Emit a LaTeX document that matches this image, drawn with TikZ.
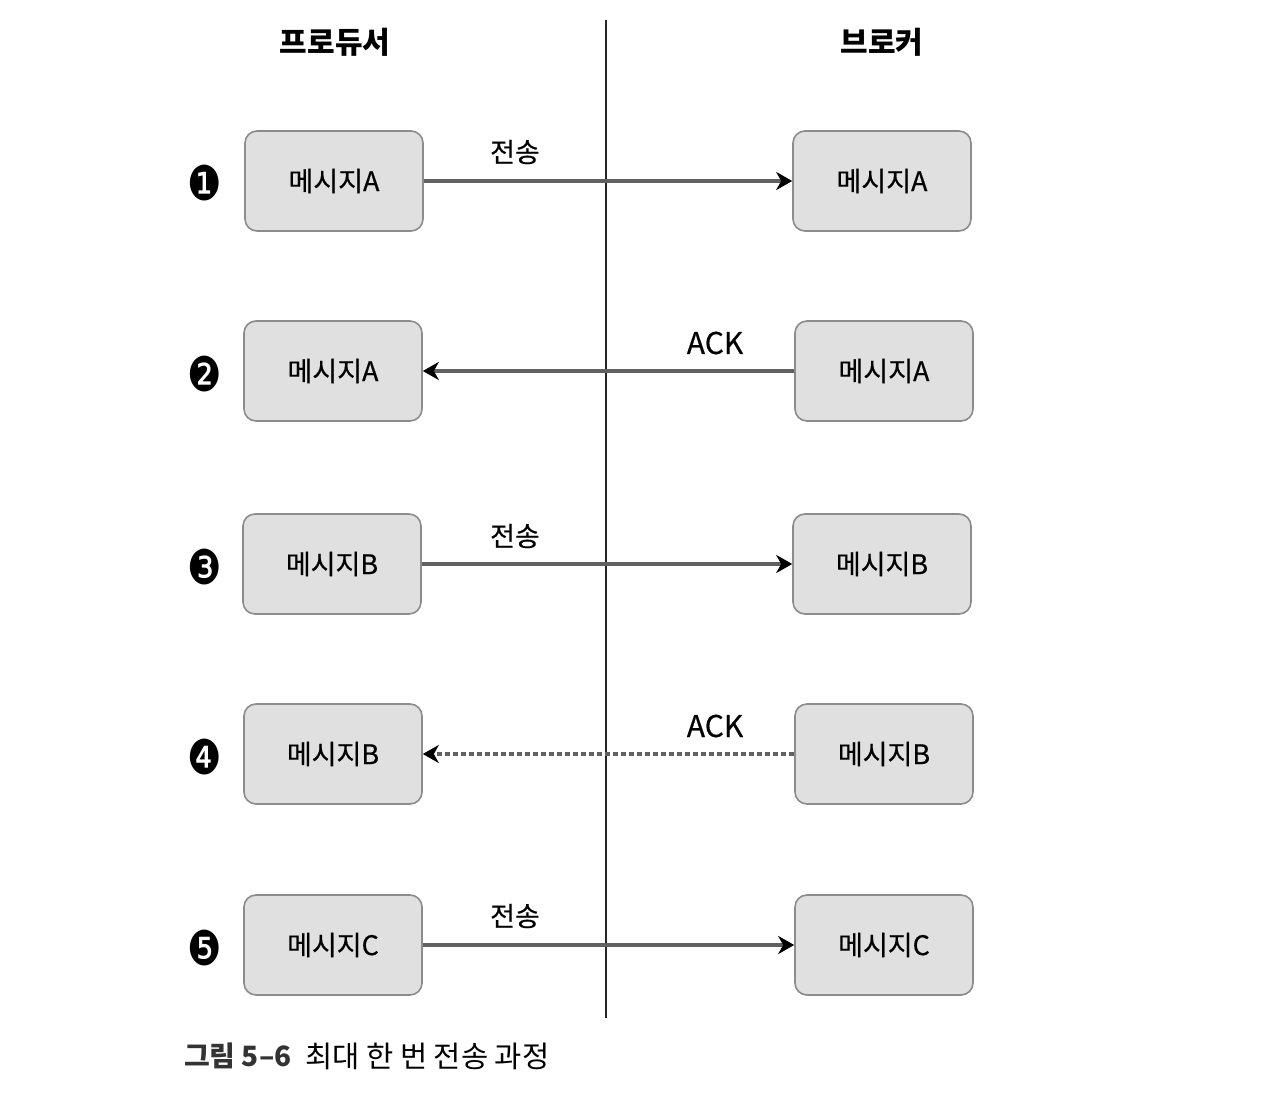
\documentclass[tikz,border=0pt]{standalone}
\usepackage{fontspec}
\setmainfont{Noto Sans CJK KR}
\newfontfamily\boxfont[FakeBold=0.5]{Noto Sans CJK KR}
\newfontfamily\numfont{DejaVu Sans}
\usetikzlibrary{arrows.meta}

\begin{document}
\begin{tikzpicture}
    [x = .5pt, y = -.5pt,
     msg/.style = {draw = black!45, fill = black!12, rounded corners = 6pt, line width = .8pt,
                   minimum width = 89pt, minimum height = 50pt, font = \fontsize{13.5}{16}\boxfont},
     head/.style = {font = \fontsize{15}{18}\selectfont\bfseries},
     lbl/.style = {font = \fontsize{13.5}{16}\boxfont},
     num/.style = {font = \fontsize{24}{28}\numfont, inner sep = 0pt, xscale = .8},
     msgarrow/.style = {draw = black!62, line width = 1.6pt, -{Stealth[black, length = 8pt, width = 9pt, inset = 2.5pt]}},
     lost/.style = {dash pattern = on 2.5pt off 1.5pt}]
    \useasboundingbox (0,0) rectangle (1263,1112);

    \node[head] (prod) at (335,42) {프로듀서};
    \node[head] (brok) at (882,42) {브로커};
    \coordinate (top) at (606,20);
    \coordinate (bot) at (606,1018);
    \draw[black!85, line width = 1.1pt] (top) -- (bot);

    \node[num] (n1) at (205,183) {❶};
    \node[num] (n2) at (205,374) {❷};
    \node[num] (n3) at (205,567) {❸};
    \node[num] (n4) at (205,757) {❹};
    \node[num] (n5) at (205,948) {❺};

    \node[msg] (p1) at (334,181) {메시지A};
    \node[msg] (p2) at (333,371) {메시지A};
    \node[msg] (p3) at (332,564) {메시지B};
    \node[msg] (p4) at (333,754) {메시지B};
    \node[msg] (p5) at (333,945) {메시지C};

    \node[msg] (b1) at (882,181) {메시지A};
    \node[msg] (b2) at (884,371) {메시지A};
    \node[msg] (b3) at (882,564) {메시지B};
    \node[msg] (b4) at (884,754) {메시지B};
    \node[msg] (b5) at (884,945) {메시지C};

    \node[lbl] (t1) at (515,152) {전송};
    \node[lbl, font = \fontsize{15}{18}\boxfont] (t2) at (715,343) {ACK};
    \node[lbl] (t3) at (515,536) {전송};
    \node[lbl, font = \fontsize{15}{18}\boxfont] (t4) at (715,726) {ACK};
    \node[lbl] (t5) at (515,916) {전송};

    \foreach \from/ \to/ \sty in {p1/b1/solid, b2/p2/solid, p3/b3/solid, b4/p4/lost, p5/b5/solid}
      \draw[msgarrow, \sty] (\from) -- (\to);

    \node[anchor = west, font = \fontsize{14}{17}\selectfont\bfseries, text = black!80] (fig) at (177,1056) {그림 5–6};
    \node[anchor = west, font = \fontsize{14.8}{17}\selectfont] (cap) at (298,1056) {최대 한 번 전송 과정};
  \end{tikzpicture}
\end{document}
